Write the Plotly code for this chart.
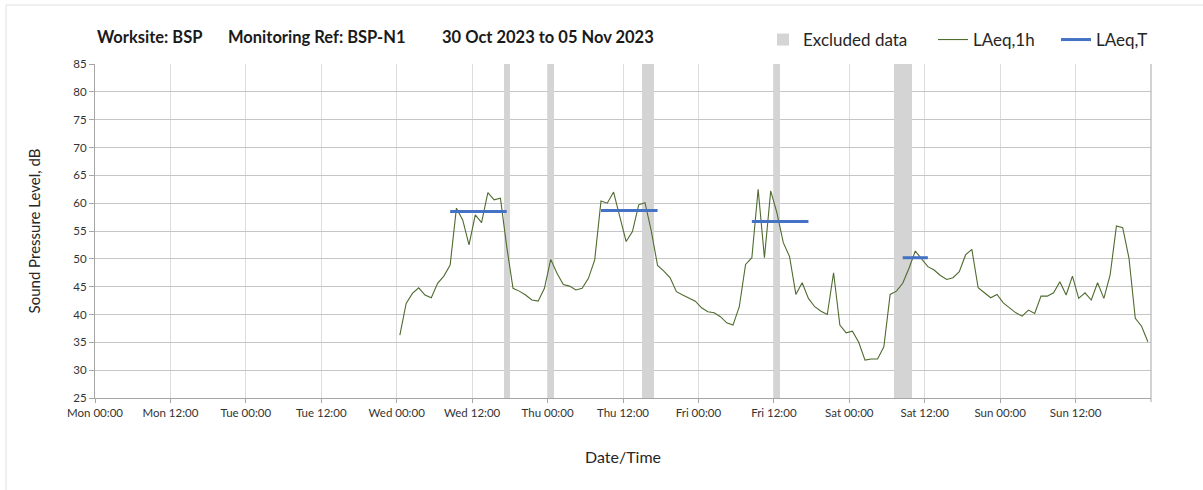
import pandas as pd
import plotly.graph_objects as go

# ---------------- data ----------------
laeq_1h_start = "2023-11-01 00:30"   # first hourly value (hour midpoint)
laeq_1h = [
    36.3, 42.0, 43.8, 44.8, 43.5, 43.0, 45.6, 46.9, 48.9, 59.1,
    57.0, 52.5, 57.9, 56.5, 61.9, 60.6, 60.9, 52.2, 44.7, 44.2,
    43.5, 42.6, 42.4, 44.7, 49.9, 47.4, 45.4, 45.1, 44.4, 44.7,
    46.5, 49.8, 60.4, 60.0, 62.0, 57.6, 53.1, 54.9, 59.7, 60.1,
    55.0, 48.8, 47.8, 46.6, 44.1, 43.5, 42.9, 42.4, 41.2, 40.5,
    40.3, 39.6, 38.5, 38.1, 41.4, 49.0, 50.2, 62.5, 50.2, 62.2,
    58.2, 52.9, 50.4, 43.6, 45.7, 42.9, 41.4, 40.6, 40.0, 47.5,
    38.1, 36.7, 37.0, 35.0, 31.8, 32.0, 32.0, 34.2, 43.6, 44.2,
    45.6, 48.3, 51.4, 50.1, 48.6, 48.0, 47.0, 46.3, 46.6, 47.7,
    50.7, 51.7, 44.8, 43.9, 43.0, 43.6, 42.1, 41.2, 40.3, 39.7,
    40.8, 40.2, 43.3, 43.3, 43.9, 45.9, 43.5, 46.9, 42.9, 43.9,
    42.6, 45.7, 42.9, 47.1, 55.9, 55.6, 50.1, 39.3, 37.9, 35.1,
]

# LAeq,T periods (first and last hourly midpoints) and values
laeq_t_start = ["2023-11-01 08:30", "2023-11-02 08:30", "2023-11-03 08:30", "2023-11-04 08:30"]
laeq_t_end   = ["2023-11-01 17:30", "2023-11-02 17:30", "2023-11-03 17:30", "2023-11-04 12:30"]
laeq_t       = [58.5, 58.7, 56.7, 50.2]

# Excluded data periods: start time and duration (hours)
excl_start = ["2023-11-01 17:00", "2023-11-02 00:00", "2023-11-02 15:00",
              "2023-11-03 12:00", "2023-11-04 07:00"]
excl_hours = [1, 1, 2, 1, 3]

# x-axis ticks every 12 hours
tick_dates = pd.date_range("2023-10-30 00:00", "2023-11-05 12:00", freq="12h")
tick_text = ["Mon 00:00", "Mon 12:00", "Tue 00:00", "Tue 12:00", "Wed 00:00",
             "Wed 12:00", "Thu 00:00", "Thu 12:00", "Fri 00:00", "Fri 12:00",
             "Sat 00:00", "Sat 12:00", "Sun 00:00", "Sun 12:00"]

x_start = "2023-10-30 00:00"
x_end = "2023-11-06 00:00"
y_min, y_max = 25, 85

title_parts = ["Worksite: BSP", "Monitoring Ref: BSP-N1", "30 Oct 2023 to 05 Nov 2023"]

# ---------------- figure ----------------
FONT = "Lato"
W, H = 1203, 490
L, R, T, B = 95, 52, 64, 92
pw, ph = W - L - R, H - T - B

def px_x(p):  # pixel -> paper x
    return (p - L) / pw

def px_y(p):  # pixel -> paper y
    return 1 - (p - T) / ph

hour = pd.Timedelta(hours=1)
t1h = pd.date_range(laeq_1h_start, periods=len(laeq_1h), freq="h")

excl_centers = [pd.Timestamp(s) + hour * h / 2 for s, h in zip(excl_start, excl_hours)]
excl_widths = [(h - 0.1) * 3600 * 1000 for h in excl_hours]

fig = go.Figure()

fig.add_trace(go.Bar(
    x=excl_centers, y=[y_max - y_min] * len(excl_centers), base=y_min,
    width=excl_widths, marker=dict(color="#D4D4D4", line=dict(width=0)),
    name="Excluded data", legend="legend", hoverinfo="skip",
))

fig.add_trace(go.Scatter(
    x=t1h, y=laeq_1h, mode="lines", name="LAeq,1h",
    line=dict(color="#4F6B2F", width=1.1), legend="legend2",
))

tx, ty = [], []
for s, e, v in zip(laeq_t_start, laeq_t_end, laeq_t):
    tx += [pd.Timestamp(s), pd.Timestamp(e), None]
    ty += [v, v, None]
fig.add_trace(go.Scatter(
    x=tx, y=ty, mode="lines", name="LAeq,T",
    line=dict(color="#4472C4", width=3), legend="legend3",
))

axis_col = "#A6A6A6"
fig.update_xaxes(
    type="date", range=[x_start, x_end], automargin=False,
    tickvals=list(tick_dates), ticktext=tick_text,
    tickfont=dict(family=FONT, size=11.5, color="#333333"),
    ticks="outside", ticklen=4, tickcolor=axis_col,
    showgrid=True, gridcolor="#DCDCDC", gridwidth=1,
    showline=True, linecolor=axis_col, linewidth=1,
    zeroline=False,
    title=dict(text="Date/Time", font=dict(family=FONT, size=16, color="#262626"), standoff=34),
)
fig.update_yaxes(
    range=[y_min, y_max], dtick=5, tick0=25, automargin=False,
    tickfont=dict(family=FONT, size=11.5, color="#333333"),
    ticks="outside", ticklen=5, tickcolor=axis_col,
    showgrid=True, gridcolor="#C6C6C6", gridwidth=1,
    showline=True, linecolor=axis_col, linewidth=1,
    zeroline=False,
    title=dict(text="Sound Pressure Level, dB", font=dict(family=FONT, size=15, color="#262626"), standoff=29),
)

leg_common = dict(orientation="h", yanchor="middle", xanchor="left",
                  bgcolor="rgba(0,0,0,0)", font=dict(family=FONT, size=17, color="#262626"),
                  itemwidth=30)
fig.update_layout(
    width=W, height=H,
    margin=dict(l=L, r=R, t=T, b=B, autoexpand=False),
    paper_bgcolor="white", plot_bgcolor="white",
    bargap=0,
    showlegend=True,
    legend=dict(x=px_x(763), y=px_y(40), **leg_common),
    legend2=dict(x=px_x(933), y=px_y(40), **leg_common),
    legend3=dict(x=px_x(1056), y=px_y(40), **leg_common),
)

# Title pieces
for txt, xp in zip(title_parts, [95, 226, 440]):
    fig.add_annotation(text="<b>%s</b>" % txt, xref="paper", yref="paper",
                       x=px_x(xp), y=px_y(37), xanchor="left", yanchor="middle",
                       showarrow=False, font=dict(family=FONT, size=16.5, color="#1a1a1a"))

# right edge line of plot area
fig.add_shape(type="line", xref="paper", yref="paper", x0=1, x1=1, y0=px_y(402), y1=1,
              line=dict(color=axis_col, width=1))
# page frame lines
fig.add_shape(type="line", xref="paper", yref="paper", x0=px_x(6), x1=px_x(6),
              y0=px_y(5), y1=px_y(492), line=dict(color="#E0E0E0", width=1))
fig.add_shape(type="line", xref="paper", yref="paper", x0=px_x(6), x1=px_x(1205),
              y0=px_y(5), y1=px_y(5), line=dict(color="#E0E0E0", width=1))

fig.write_html("out.html", config={"displayModeBar": False},
               post_script="document.body.style.margin='0px';document.body.style.padding='0px';")
